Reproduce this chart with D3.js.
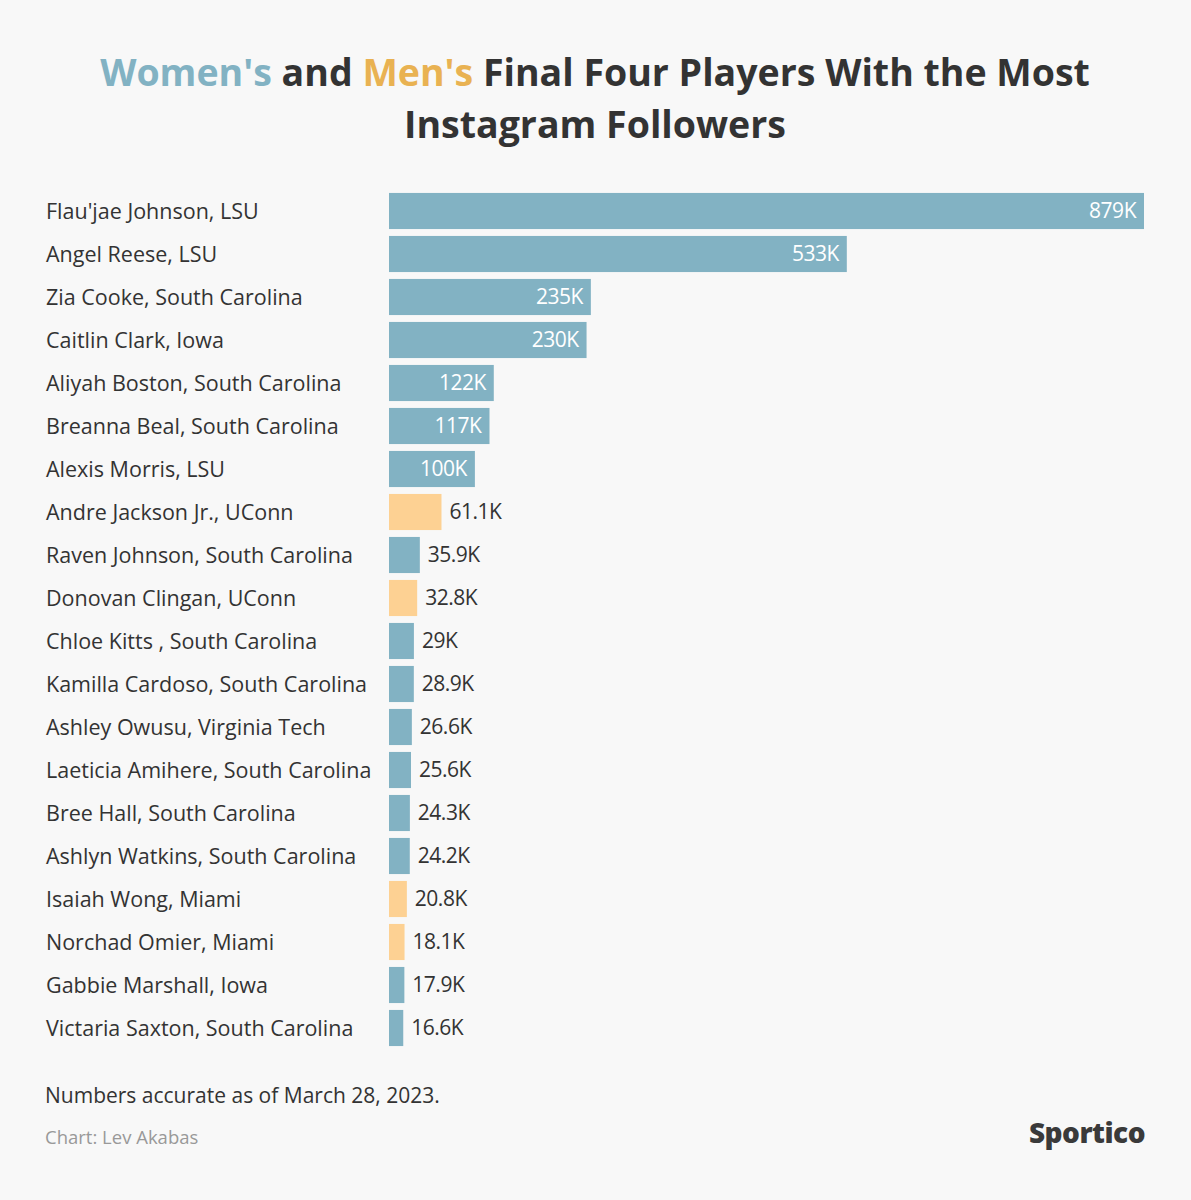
<html>
<head>
<style>
  body { margin: 0; background: #f8f8f8; font-family: "Open Sans", sans-serif; }
</style>
</head>
<body>
<script src="https://cdn.jsdelivr.net/npm/d3@7"></script>
<script>
// data
var players = ["Flau'jae Johnson, LSU", "Angel Reese, LSU", "Zia Cooke, South Carolina", "Caitlin Clark, Iowa",
  "Aliyah Boston, South Carolina", "Breanna Beal, South Carolina", "Alexis Morris, LSU", "Andre Jackson Jr., UConn",
  "Raven Johnson, South Carolina", "Donovan Clingan, UConn", "Chloe Kitts , South Carolina", "Kamilla Cardoso, South Carolina",
  "Ashley Owusu, Virginia Tech", "Laeticia Amihere, South Carolina", "Bree Hall, South Carolina", "Ashlyn Watkins, South Carolina",
  "Isaiah Wong, Miami", "Norchad Omier, Miami", "Gabbie Marshall, Iowa", "Victaria Saxton, South Carolina"];
var followers = [879, 533, 235, 230, 122, 117, 100, 61.1, 35.9, 32.8, 29, 28.9, 26.6, 25.6, 24.3, 24.2, 20.8, 18.1, 17.9, 16.6];
var labels = ["879K", "533K", "235K", "230K", "122K", "117K", "100K", "61.1K", "35.9K", "32.8K", "29K", "28.9K", "26.6K", "25.6K", "24.3K", "24.2K", "20.8K", "18.1K", "17.9K", "16.6K"];
var gender = ["W","W","W","W","W","W","W","M","W","M","W","W","W","W","W","W","M","M","W","W"];

var W = 1191, H = 1200;
var colW = "#82b2c3", colM = "#fdd193";
var svg = d3.select("body").append("svg").attr("width", W).attr("height", H);
svg.append("rect").attr("width", W).attr("height", H).attr("fill", "#f8f8f8");

// title
var t1 = svg.append("text").attr("x", 595).attr("y", 86).attr("text-anchor", "middle")
  .attr("font-size", 37.5).attr("font-weight", 700).attr("fill", "#333");
t1.append("tspan").attr("fill", "#82b2c3").text("Women's");
t1.append("tspan").text(" and ");
t1.append("tspan").attr("fill", "#e9b252").text("Men's");
t1.append("tspan").text(" Final Four Players With the Most");
svg.append("text").attr("x", 595).attr("y", 138).attr("text-anchor", "middle")
  .attr("font-size", 37.5).attr("font-weight", 700).attr("fill", "#333").text("Instagram Followers");

var x = d3.scaleLinear().domain([0, 879]).range([389, 1144]);
var y = d3.scaleBand().domain(players).range([189.5, 1049.5]).paddingInner(0.16).paddingOuter(0.08);

var rows = svg.selectAll("g.row").data(players).enter().append("g").attr("class", "row");
rows.append("text").attr("x", 46).attr("y", function(d){ return y(d) + y.bandwidth()/2; })
  .attr("dy", "0.35em").attr("font-size", 21.5).attr("fill", "#333").text(function(d){ return d; });
rows.append("rect").attr("x", x(0)).attr("y", function(d){ return y(d); })
  .attr("width", function(d,i){ return x(followers[i]) - x(0); })
  .attr("height", y.bandwidth())
  .attr("fill", function(d,i){ return gender[i] == "W" ? colW : colM; });
rows.append("text")
  .attr("x", function(d,i){ return followers[i] >= 100 ? x(followers[i]) - 8 : x(followers[i]) + 8; })
  .attr("y", function(d){ return y(d) + y.bandwidth()/2; })
  .attr("dy", "0.35em").attr("font-size", 21).attr("letter-spacing", "-0.5")
  .attr("text-anchor", function(d,i){ return followers[i] >= 100 ? "end" : "start"; })
  .attr("fill", function(d,i){ return followers[i] >= 100 ? "#fff" : "#333"; })
  .text(function(d,i){ return labels[i]; });

// footer
svg.append("text").attr("x", 45).attr("y", 1103).attr("font-size", 21).attr("fill", "#333")
  .text("Numbers accurate as of March 28, 2023.");
svg.append("text").attr("x", 45).attr("y", 1144).attr("font-size", 18.5).attr("fill", "#999")
  .text("Chart: Lev Akabas");
svg.append("text").attr("x", 1145).attr("y", 1143).attr("text-anchor", "end").attr("font-size", 28)
  .attr("font-weight", 800).attr("fill", "#3a3a3a").attr("letter-spacing", "-0.5").text("Sportico");
</script>
</body>
</html>
